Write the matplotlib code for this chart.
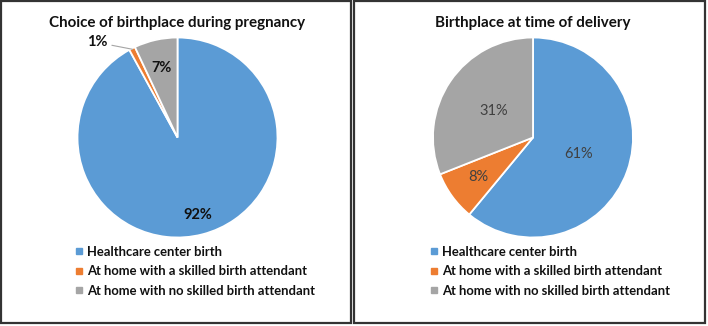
import numpy as np
import matplotlib
matplotlib.use("Agg")
import matplotlib.pyplot as plt
from matplotlib.patches import Rectangle
from matplotlib.lines import Line2D

plt.rcParams['font.family'] = ['Lato', 'DejaVu Sans']

categories = ["Healthcare center birth",
              "At home with a skilled birth attendant",
              "At home with no skilled birth attendant"]
colors = ["#5B9BD5", "#ED7D31", "#A5A5A5"]

titles = ["Choice of birthplace during pregnancy", "Birthplace at time of delivery"]
pregnancy_values = [92, 1, 7]
delivery_values = [61, 8, 31]
pregnancy_labels = ["92%", "1%", "7%"]
delivery_labels = ["61%", "8%", "31%"]

W, H = 708, 326
fig = plt.figure(figsize=(W / 100, H / 100), dpi=100)


def px_box(x0, y0, x1, y1):
    # pixel box (top-left origin) -> figure fraction rect
    return [x0 / W, 1 - y1 / H, (x1 - x0) / W, (y1 - y0) / H]


def draw_panel(bx0, bx1, cx, title, values, labels, label_r, bold, label_color):
    fig.add_artist(Rectangle((bx0 / W, 1 - 323 / H), (bx1 - bx0) / W, 322 / H,
                             transform=fig.transFigure, fill=False,
                             edgecolor="#333333", linewidth=1.6))
    r = 100
    ax = fig.add_axes(px_box(cx - r, 137.5 - r, cx + r, 137.5 + r))
    wedges, _ = ax.pie(values, colors=colors, startangle=90, counterclock=False,
                       radius=1.0, wedgeprops=dict(edgecolor="white", linewidth=1.3))
    ax.set_xlim(-1, 1)
    ax.set_ylim(-1, 1)
    ax.set_aspect("equal")
    ax.axis("off")
    for w, lab, lr in zip(wedges, labels, label_r):
        mid = np.deg2rad((w.theta1 + w.theta2) / 2)
        if lr is None:
            continue
        ax.text(lr * np.cos(mid), lr * np.sin(mid), lab, ha="center", va="center",
                fontsize=10.5, fontweight="bold" if bold else "normal",
                color=label_color, clip_on=False)
    fig.text(cx / W, 1 - 23 / H, title, ha="center", va="center",
             fontsize=10.9, fontweight="bold", color="#111111")
    handles = [Line2D([], [], marker="s", linestyle="", color=c, markersize=5)
               for c in colors]
    leg = fig.legend(handles, categories, loc="upper left",
                     bbox_to_anchor=((cx - r - 2.5) / W, 1 - 245.5 / H),
                     frameon=False, handlelength=0.6, handletextpad=0.3,
                     labelspacing=0.58, prop=dict(size=9.4, weight="bold"),
                     borderaxespad=0, borderpad=0)
    for t in leg.get_texts():
        t.set_color("#111111")
    return ax, wedges


ax1, w1 = draw_panel(1, 351, 177.5, titles[0], pregnancy_values, pregnancy_labels,
                     [0.8, None, 0.71], True, "#111111")
# small slice label with leader line
mid = np.deg2rad((w1[1].theta1 + w1[1].theta2) / 2)
ax1.annotate(pregnancy_labels[1], xy=(0.99 * np.cos(mid), 0.99 * np.sin(mid)),
             xytext=(-0.8, 0.95), ha="center", va="center", fontsize=10.5,
             fontweight="bold", color="#111111", annotation_clip=False,
             arrowprops=dict(arrowstyle="-", color="#A5A5A5", lw=0.8,
                             shrinkA=1, shrinkB=0))

draw_panel(354, 705, 533, titles[1], delivery_values, delivery_labels,
           [0.48, 0.68, 0.47], False, "#404040")

fig.savefig("out.png", dpi=100)
